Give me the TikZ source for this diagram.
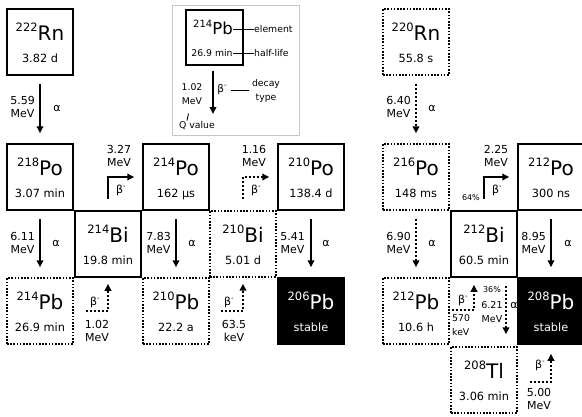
\documentclass[tikz,border=0pt]{standalone}
\usepackage{fontspec}
\setmainfont{DejaVu Sans}
\usetikzlibrary{arrows.meta}
\newcommand\elfont{\fontsize{20}{20}\selectfont}
\newcommand\supfont{\fontsize{11.5}{11.5}\selectfont}
\newcommand\hlfont{\fontsize{11.3}{11.3}\selectfont}
\newcommand\lbfont{\fontsize{11}{13.5}\selectfont}
\newcommand\smfont{\fontsize{9.3}{14}\selectfont}
\newcommand\tnfont{\fontsize{8}{8}\selectfont}
\newcommand\betam{β\raisebox{5pt}{\fontsize{7}{7}\selectfont -}}
\tikzset{
  box/.style={minimum width=66pt, minimum height=66pt, inner sep=0pt, draw, line width=1.5pt},
  solidbox/.style={box},
  dotbox/.style={box, line width=1.4pt, dash pattern=on 1.6pt off 1.6pt},
  blackbox/.style={box, fill=black},
  solidbox text/.style={},
  dotbox text/.style={},
  blackbox text/.style={text=white},
  eltext/.style={inner sep=0pt, anchor=base},
  hltext/.style={inner sep=0pt, anchor=base, font=\hlfont},
  lab/.style={inner sep=0pt, align=center, font=\lbfont},
  alpha/.style={line width=2pt, -{Triangle[length=7pt,width=6.5pt]}, shorten <=8pt, shorten >=10pt},
  alphadot/.style={alpha, dash pattern=on 2pt off 2pt},
  beta/.style={line width=2pt, -{Triangle[length=7pt,width=6.5pt]}},
  betadot/.style={beta, dash pattern=on 2pt off 2pt},
}
\newcommand\nuclide[7]{%
  \node[#4] (#1) at (#2,#3) {};
  \node[eltext, #4 text] (#1-el) at ([yshift=1.5pt]#1.center) {\raisebox{9pt}{\supfont #5}\elfont #6};
  \node[hltext, #4 text] (#1-hl) at ([yshift=-20pt]#1.center) {#7};
}
\begin{document}
\begin{tikzpicture}[x=1pt,y=-1pt]
\useasboundingbox (0,0) rectangle (582,416);

% ---------- uranium-radium chain ----------
\nuclide{rn222}{40}{42}{solidbox}{222}{Rn}{3.82 d}
\nuclide{po218}{40}{177}{solidbox}{218}{Po}{3.07 min}
\nuclide{pb214}{40}{311}{dotbox}{214}{Pb}{26.9 min}
\nuclide{bi214}{108}{244}{solidbox}{214}{Bi}{19.8 min}
\nuclide{po214}{176}{177}{solidbox}{214}{Po}{162 μs}
\nuclide{pb210}{176}{311}{dotbox}{210}{Pb}{22.2 a}
\nuclide{bi210}{243}{244}{dotbox}{210}{Bi}{5.01 d}
\nuclide{po210}{311}{177}{solidbox}{210}{Po}{138.4 d}
\nuclide{pb206}{311}{311}{blackbox}{206}{Pb}{stable}

% ---------- thorium chain ----------
\nuclide{rn220}{416}{42}{dotbox}{220}{Rn}{55.8 s}
\nuclide{po216}{416}{177}{dotbox}{216}{Po}{148 ms}
\nuclide{pb212}{416}{311}{dotbox}{212}{Pb}{10.6 h}
\nuclide{bi212}{484}{244}{solidbox}{212}{Bi}{60.5 min}
\nuclide{po212}{551}{177}{solidbox}{212}{Po}{300 ns}
\nuclide{pb208}{551}{311}{blackbox}{208}{Pb}{stable}
\nuclide{tl208}{484}{380}{dotbox}{208}{Tl}{3.06 min}

% ---------- alpha decays ----------
\draw[alpha] (rn222) -- (po218);
\node[lab, anchor=east] (q1) at (35,107) {5.59\\MeV};
\node[lab] (a1) at (57,108) {α};
\draw[alpha] (po218) -- (pb214);
\node[lab, anchor=east] (q2) at (35,243) {6.11\\MeV};
\node[lab] (a2) at (56,243) {α};
\draw[alpha] (po214) -- (pb210);
\node[lab, anchor=east] (q3) at (171,243) {7.83\\MeV};
\node[lab] (a3) at (192,243) {α};
\draw[alpha] (po210) -- (pb206);
\node[lab, anchor=east] (q4) at (305,243) {5.41\\MeV};
\node[lab] (a4) at (326,243) {α};

\draw[alphadot] (rn220) -- (po216);
\node[lab, anchor=east] (q5) at (411,107) {6.40\\MeV};
\node[lab] (a5) at (432,108) {α};
\draw[alphadot] (po216) -- (pb212);
\node[lab, anchor=east] (q6) at (411,243) {6.90\\MeV};
\node[lab] (a6) at (432,243) {α};
\draw[alpha] (po212) -- (pb208);
\node[lab, anchor=east] (q7) at (546,243) {8.95\\MeV};
\node[lab] (a7) at (568,243) {α};

\draw[alphadot, shorten <=0pt, shorten >=0pt] ([xshift=22pt,yshift=-8pt]bi212.south) -- ([xshift=22pt,yshift=12pt]tl208.north);
\node[lab, font=\tnfont] (p36) at (492,290) {36\%};
\node[lab, font=\fontsize{9.5}{14}\selectfont] (q8) at (492,312) {6.21\\MeV};
\node[lab] (a8) at (514,305) {α};

% ---------- beta decays ----------
\draw[betadot] ([xshift=12pt]pb214.east) -| ([yshift=-6pt]bi214.south);
\node[lab] (b1) at (95,302) {\betam};
\node[lab] (e1) at (97,331) {1.02\\MeV};
\draw[beta] ([yshift=11pt]bi214.north) |- ([xshift=-8pt]po214.west);
\node[lab] (e2) at (119,156) {3.27\\MeV};
\node[lab] (b2) at (121,190) {\betam};
\draw[betadot] ([xshift=11pt]pb210.east) -| ([yshift=-6pt]bi210.south);
\node[lab] (b3) at (229,302) {\betam};
\node[lab] (e3) at (234,331) {63.5\\keV};
\draw[betadot] ([yshift=11pt]bi210.north) |- ([xshift=-8pt]po210.west);
\node[lab] (e4) at (254,156) {1.16\\MeV};
\node[lab] (b4) at (256,190) {\betam};

\draw[betadot] ([xshift=2pt,yshift=1pt]pb212.east) -| ([xshift=-10pt,yshift=-7pt]bi212.south);
\node[lab] (b5) at (463,300) {\betam};
\node[lab, anchor=north west, align=left, font=\smfont] (e5) at (452,314) {570\\keV};
\draw[beta] ([yshift=11pt]bi212.north) |- ([xshift=-8pt]po212.west);
\node[lab] (e6) at (496,156) {2.25\\MeV};
\node[lab] (b6) at (497,190) {\betam};
\node[lab, font=\tnfont, anchor=east] (p64) at (480,198) {64\%};
\draw[betadot] ([xshift=12pt,yshift=-2pt]tl208.east) -| ([yshift=-9pt]pb208.south);
\node[lab] (b7) at (540,365) {\betam};
\node[lab] (e7) at (539,399) {5.00\\MeV};

% ---------- legend ----------
\node[draw=gray!45, line width=1pt, minimum width=127pt, minimum height=130pt, inner sep=0pt] (legend) at (235.5,70) {};
\node[draw, line width=1.5pt, minimum width=57pt, minimum height=55pt, inner sep=0pt] (lgbox) at (214.5,37.5) {};
\node[inner sep=0pt, anchor=base] (lgel) at (213,34) {\raisebox{7pt}{\fontsize{10}{10}\selectfont 214}\fontsize{16.5}{16.5}\selectfont Pb};
\node[inner sep=0pt, anchor=base, font=\smfont] (lghl) at (212,56) {26.9 min};
\node[inner sep=0pt, anchor=west, font=\smfont] (lgelement) at (254,29) {element};
\node[inner sep=0pt, anchor=west, font=\smfont] (lghalf) at (254,53) {half-life};
\draw[line width=1pt] (lgel.east |- lgelement.west) -- (lgelement.west);
\draw[line width=1pt] (lghl.east |- lghalf.west) -- (lghalf.west);
\coordinate (lgtip) at (213,114);
\draw[beta] ([yshift=-5pt]lgbox.south -| lgtip) -- (lgtip);
\node[lab, font=\smfont] (lgq) at (192,94) {1.02\\MeV};
\node[lab, font=\fontsize{10.5}{10.5}\selectfont] (lgb) at (222,90) {\betam};
\node[lab, font=\smfont] (lgtype) at (266,91) {decay\\type};
\draw[line width=1pt] ([xshift=4pt]lgb.east) -- ([xshift=-3pt]lgtype.west |- lgb.east);
\node[lab, font=\smfont] (lgqv) at (197,126) {Q value};
\coordinate (lgs1) at (187,120.5);
\coordinate (lgs2) at (188.5,113.5);
\draw[line width=0.9pt] (lgs1) -- (lgs2);
\end{tikzpicture}
\end{document}
